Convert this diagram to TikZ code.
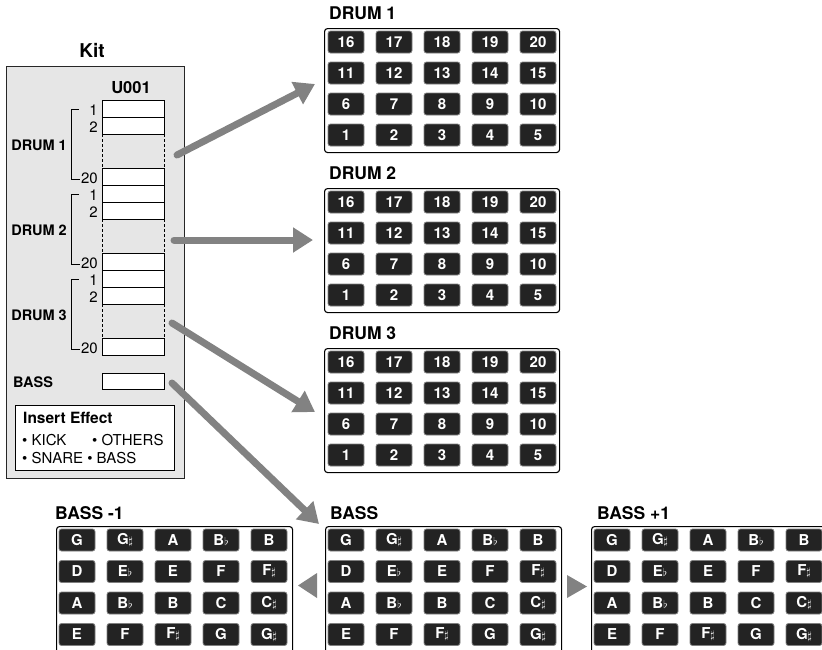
\documentclass[tikz,border=0pt]{standalone}
\usepackage{fontspec}
\setmainfont{TeX Gyre Heros}
\usepackage{xcolor}
\usetikzlibrary{arrows.meta}

\definecolor{padfill}{HTML}{232323}
\definecolor{kitgray}{HTML}{E6E6E6}
\definecolor{arrowgray}{HTML}{828282}

\newcommand{\shp}{{\fontsize{11}{11}\selectfont$\sharp$}}
\newcommand{\flt}{{\fontsize{11}{11}\selectfont$\flat$}}

\begin{document}
\begin{tikzpicture}[
    x=1pt, y=-1pt,
    pad/.style={rectangle, rounded corners=2.5pt, draw=black!50, line width=0.8pt, fill=padfill, text=white, font=\bfseries\fontsize{15}{15}\selectfont, minimum width=36pt, minimum height=22pt, inner sep=0pt},
    panel/.style={rectangle, draw, line width=1.1pt, rounded corners=3pt, fill=white, inner sep=0pt},
    title/.style={anchor=west, inner sep=0pt, font=\bfseries\fontsize{17.5}{17.5}\selectfont},
    side/.style={anchor=east, inner sep=0pt, font=\bfseries\fontsize{14.5}{14.5}\selectfont},
    slot/.style={draw, line width=0.7pt, fill=white},
    num/.style={anchor=east, inner sep=0pt, font=\fontsize{15}{15}\selectfont},
    bigarrow/.style={draw=arrowgray, line width=7pt, line cap=round, -{Triangle[length=20pt,width=24pt]}}
]
    \useasboundingbox (0,0) rectangle (822,649);
    \clip (0,0) rectangle (822,649);

    % Kit
    \node[font=\bfseries\fontsize{19}{19}\selectfont] (kittitle) at (92,50) {Kit};
    \node[rectangle, draw=black!85, line width=1.4pt, fill=kitgray, anchor=north west, minimum width=178pt, minimum height=412pt] (kit) at (6,66) {};
    \node[font=\bfseries\fontsize{16.5}{16.5}\selectfont] (user) at (131,88) {U001};

    \foreach \g in {1,2,3} {
        \pgfmathsetmacro\base{100+85*(\g-1)}
        \draw[slot] (102,\base) rectangle (164,\base+17);
        \draw[slot] (102,\base+17) rectangle (164,\base+34);
        \draw[slot] (102,\base+68) rectangle (164,\base+85);
        \draw[line width=0.6pt, dash pattern=on 3pt off 2pt] (102,\base+34) -- (102,\base+68);
        \draw[line width=0.6pt, dash pattern=on 3pt off 2pt] (164,\base+34) -- (164,\base+68);
        \node[num] (n\g a) at (98,\base+10) {1};
        \node[num] (n\g b) at (98,\base+27) {2};
        \node[num] (n\g c) at (98,\base+78) {20};
        \draw[line width=0.8pt] (79,\base+9) -| (71,\base+79) -- (80,\base+79);
        \node[side] (drumside\g) at (67,\base+45) {DRUM \g};
    }

    % Bass slot
    \draw[slot] (102,373) rectangle (164,389);
    \node[side, anchor=west] (bassside) at (13,382) {BASS};

    % Insert effect
    \node[rectangle, draw, line width=0.9pt, fill=white, anchor=north west, minimum width=159pt, minimum height=65pt] (insfx) at (15,405) {};
    \node[anchor=west, inner sep=0pt, font=\bfseries\fontsize{15.5}{15.5}\selectfont] (insfxtitle) at (23,418) {Insert Effect};
    \node[anchor=west, inner sep=0pt, font=\fontsize{15}{15}\selectfont] (fxkick) at (22,440) {\textbullet\ KICK};
    \node[anchor=west, inner sep=0pt, font=\fontsize{15}{15}\selectfont] (fxothers) at (92,440) {\textbullet\ OTHERS};
    \node[anchor=west, inner sep=0pt, font=\fontsize{15}{15}\selectfont] (fxsnare) at (22,458) {\textbullet\ SNARE \textbullet\ BASS};

    % Drum pads
    \foreach \d in {1,2,3} {
        \pgfmathsetmacro\py{28+160*(\d-1)}
        \node[title] (drumtitle\d) at (329,\py-15) {DRUM \d};
        \node[panel, anchor=north west, minimum width=235pt, minimum height=124pt] (drum\d) at (324,\py) {};
        \foreach \r in {0,...,3} {
            \foreach \c in {0,...,4} {
                \pgfmathtruncatemacro\n{5*(3-\r)+\c+1}
                \node[pad] (d\d p\n) at (346+48*\c,\py+14+31*\r) {\n};
            }
        }
    }

    % Bass pads
    \foreach \b/\bx/\tx/\lbl in {m/56/55/BASS -1, z/325/330/BASS, p/591/597/BASS +1} {
        \node[title] (basstitle\b) at (\tx,513) {\lbl};
        \node[panel, anchor=north west, minimum width=236pt, minimum height=160pt] (bass\b) at (\bx,526) {};
        \foreach \r/\notes in {0/{G,G\shp,A,B\flt,B}, 1/{D,E\flt,E,F,F\shp}, 2/{A,B\flt,B,C,C\shp}, 3/{E,F,F\shp,G,G\shp}} {
            \foreach \nt [count=\c from 0] in \notes {
                \node[pad] (b\b\r\c) at (\bx+21+48*\c,540+31.5*\r) {\nt};
            }
        }
    }

    % Arrows
    \coordinate (d1out) at (177,155);
    \coordinate (d1in) at (315,84);
    \coordinate (d2out) at (174,240);
    \coordinate (d2in) at (313,240);
    \coordinate (d3out) at (172,323);
    \coordinate (d3in) at (315,412);
    \coordinate (bout) at (172,383);
    \coordinate (bin) at (319,524);
    \draw[bigarrow] (d1out) -- (d1in);
    \draw[bigarrow] (d2out) -- (d2in);
    \draw[bigarrow] (d3out) -- (d3in);
    \draw[bigarrow] (bout) -- (bin);

    % Octave shift marks
    \fill[arrowgray] (298,585.5) -- (317,573) -- (317,598) -- cycle;
    \fill[arrowgray] (587,586.5) -- (567,575) -- (567,598) -- cycle;

\end{tikzpicture}
\end{document}
